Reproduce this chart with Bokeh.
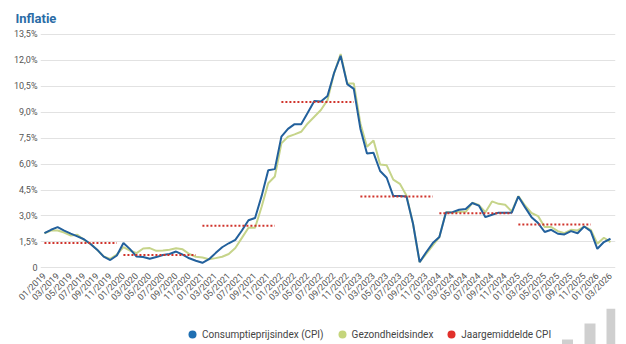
import math
from bokeh.plotting import figure
from bokeh.layouts import column
from bokeh.models import (ColumnDataSource, Range1d, FixedTicker, Legend, LegendItem)
from bokeh.embed import file_html
from bokeh.resources import INLINE

# ---------------- data ----------------
months = [f"{m:02d}/{y}" for y in range(2019, 2027) for m in range(1, 13)][:87]

cpi = [2.0, 2.2, 2.35, 2.15, 1.98, 1.82, 1.65, 1.38, 1.05, 0.65, 0.45, 0.71,
       1.43, 1.08, 0.65, 0.62, 0.52, 0.62, 0.74, 0.8, 0.94, 0.76, 0.55, 0.41,
       0.29, 0.5, 0.85, 1.19, 1.42, 1.62, 2.16, 2.75, 2.88, 4.16, 5.64, 5.71,
       7.59, 8.04, 8.31, 8.31, 8.97, 9.65, 9.62, 9.94, 11.27, 12.27, 10.63, 10.35,
       8.05, 6.62, 6.65, 5.6, 5.21, 4.15, 4.15, 4.13, 2.55, 0.33, 0.9, 1.43,
       1.78, 3.2, 3.22, 3.36, 3.4, 3.75, 3.6, 2.93, 3.07, 3.19, 3.19, 3.19,
       4.13, 3.51, 2.93, 2.59, 2.07, 2.2, 1.97, 1.93, 2.12, 2.0, 2.39, 2.12,
       1.1, 1.49, 1.68]

health = [2.0, 2.16, 2.16, 2.04, 1.87, 1.91, 1.62, 1.39, 1.04, 0.66, 0.52, 0.77,
          1.2, 1.0, 0.85, 1.12, 1.14, 0.98, 1.0, 1.05, 1.13, 1.07, 0.8, 0.64,
          0.6, 0.49, 0.56, 0.64, 0.8, 1.15, 1.73, 2.32, 2.32, 3.53, 4.89, 5.28,
          7.2, 7.58, 7.72, 7.87, 8.35, 8.74, 9.13, 9.7, 11.25, 12.37, 10.67, 10.67,
          8.35, 7.0, 7.37, 5.98, 5.93, 5.1, 4.86, 4.19, 2.55, 0.33, 0.81, 1.3,
          1.78, 3.22, 3.2, 3.24, 3.24, 3.76, 3.63, 3.22, 3.84, 3.7, 3.65, 3.26,
          4.15, 3.61, 3.17, 2.99, 2.36, 2.36, 2.12, 2.0, 2.2, 2.16, 2.39, 2.2,
          1.39, 1.74, 1.49]

years = [2019, 2020, 2021, 2022, 2023, 2024, 2025]
year_avg = [1.44, 0.74, 2.44, 9.59, 4.12, 3.16, 2.5]

y_ticks = [0, 1.5, 3.0, 4.5, 6.0, 7.5, 9.0, 10.5, 12.0, 13.5]
y_tick_labels = ["0", "1,5%", "3,0%", "4,5%", "6,0%", "7,5%", "9,0%", "10,5%", "12,0%", "13,5%"]

legend_labels = ["Consumptieprijsindex (CPI)", "Gezondheidsindex", "Jaargemiddelde CPI"]

# decorative logo bars (bottom right corner), relative heights
logo_heights = [9, 25, 46]

# ---------------- styles ----------------
FONT = "Roboto"
BLUE = "#22609c"
GREEN = "#c6d48a"
RED = "#d0342c"
LEG_COLORS = ["#1f6fb2", "#c5d57c", "#e1302b"]

idx = list(range(len(months)))
src = ColumnDataSource(dict(x=idx, cpi=cpi, health=health))

# ---------------- main chart ----------------
p = figure(frame_width=575, frame_height=240, output_backend="svg",
           toolbar_location=None,
           x_range=Range1d(-0.6, 86.76), y_range=Range1d(-0.156, 13.73),
           min_border_left=40, min_border_right=11, min_border_top=30,
           min_border_bottom=30, outline_line_color=None,
           background_fill_color="white", border_fill_color="white")

p.title.text = "Inflatie"
p.title.text_font = FONT
p.title.text_font_size = "13px"
p.title.text_color = "#2b6ca6"
p.title.align = "left"
p.title.offset = -25

p.xgrid.visible = False
p.ygrid.ticker = FixedTicker(ticks=y_ticks)
p.ygrid.grid_line_color = "#e2e2e2"
p.ygrid.grid_line_width = 1

p.yaxis.ticker = FixedTicker(ticks=y_ticks)
p.yaxis.major_label_overrides = dict(zip(y_ticks, y_tick_labels))
p.yaxis.major_label_text_font = FONT
p.yaxis.major_label_text_font_size = "9px"
p.yaxis.major_label_text_color = "#555555"
p.yaxis.axis_line_color = None
p.yaxis.major_tick_line_color = None
p.yaxis.minor_tick_line_color = None
p.yaxis.major_tick_out = 0
p.yaxis.major_tick_in = 0
p.yaxis.major_label_standoff = 3

even_idx = idx[::2]
p.xaxis.ticker = FixedTicker(ticks=even_idx)
p.xaxis.major_label_overrides = {i: months[i] for i in even_idx}
p.xaxis.major_label_orientation = math.pi / 4
p.xaxis.major_label_text_font = FONT
p.xaxis.major_label_text_font_size = "9px"
p.xaxis.major_label_text_color = "#555555"
p.xaxis.axis_line_color = None
p.xaxis.major_tick_line_color = None
p.xaxis.minor_tick_line_color = None
p.xaxis.major_tick_out = 0
p.xaxis.major_tick_in = 0
p.xaxis.major_label_standoff = 4

p.line("x", "health", source=src, line_color=GREEN, line_width=2)
p.line("x", "cpi", source=src, line_color=BLUE, line_width=2)

for k, avg in enumerate(year_avg):
    xs = [12 * k, 12 * k + 11]
    p.line(xs, [avg, avg], line_color=RED, line_width=2, line_dash="2 2")

# ---------------- legend strip (frame aligned with main chart) ----------------
lg = figure(frame_width=575, height=40, output_backend="svg", toolbar_location=None,
            x_range=Range1d(40, 615), y_range=Range1d(0, 40),
            min_border_left=40, min_border_right=11, min_border_top=0,
            min_border_bottom=0, outline_line_color=None,
            background_fill_color="white", border_fill_color="white")
lg.axis.visible = False
lg.grid.visible = False

items = []
for lab, col in zip(legend_labels, LEG_COLORS):
    r = lg.scatter(x=[-100.0], y=[-100.0], marker="circle", size=13,
                   fill_color=col, line_color=None)
    items.append(LegendItem(label=lab, renderers=[r]))

legend = Legend(items=items, orientation="horizontal", location=(142, 4),
                label_text_font=FONT, label_text_font_size="10px",
                label_text_color="#444444", border_line_color=None,
                background_fill_alpha=0, glyph_width=20, glyph_height=20,
                label_standoff=0, spacing=8, padding=0, margin=0)
lg.add_layout(legend, "center")

lg.vbar(x=[567, 589.5, 611.5], width=11, bottom=0, top=logo_heights,
        fill_color="#cfcfcf", line_color=None)

layout = column(p, lg, spacing=0)
open("out.html", "w").write(file_html(layout, INLINE))
